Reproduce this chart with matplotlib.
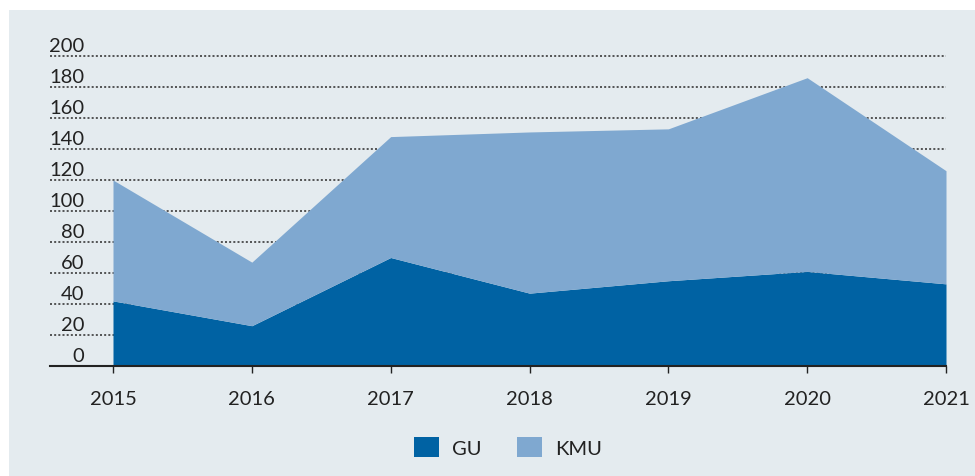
import numpy as np
import matplotlib
matplotlib.use('Agg')
import matplotlib.pyplot as plt
from matplotlib.patches import Patch, Rectangle

years = [2015, 2016, 2017, 2018, 2019, 2020, 2021]
gu = [42, 26, 70, 47, 55, 61, 53]
kmu = [78, 41, 78, 104, 98, 125, 73]
y_ticks = [0, 20, 40, 60, 80, 100, 120, 140, 160, 180, 200]

gu_color = '#0062a3'
kmu_color = '#7fa8d0'
bg_color = '#e4ebef'
text_color = '#222222'

plt.rcParams['font.family'] = ['Lato', 'DejaVu Sans']

fig = plt.figure(figsize=(9.75, 4.77), dpi=100, facecolor='white')

# light panel behind everything, leaving a thin white strip top and left
fig.patches.append(Rectangle((9 / 975, 0), 1 - 9 / 975, 1 - 11 / 477,
                             transform=fig.transFigure, facecolor=bg_color,
                             edgecolor='none', zorder=-10))

ax = fig.add_axes([50 / 975, 1 - 367 / 477, 896 / 975, 310 / 477])
ax.set_facecolor('none')

total = np.array(gu) + np.array(kmu)
ax.fill_between(years, 0, gu, color=gu_color, linewidth=0, zorder=3)
ax.fill_between(years, gu, total, color=kmu_color, linewidth=0, zorder=3)

ax.set_xlim(2015 - 63 / 138.83, 2021)
ax.set_ylim(0, 200)

# dotted gridlines, labels sit just above each line
for v in y_ticks:
    if v > 0:
        ax.axhline(v, color='#3a3a3a', linewidth=1.2, linestyle=(0, (1.2, 1.3)),
                   zorder=1, clip_on=False)
    ax.annotate(str(v), xy=(0.038, v), xycoords=ax.get_yaxis_transform(),
                xytext=(0, 3.5), textcoords='offset points',
                ha='right', va='baseline', fontsize=14.5, color=text_color)

ax.set_yticks([])
ax.set_xticks(years)
ax.set_xticklabels([str(y) for y in years])
ax.tick_params(axis='x', length=5, width=1, color=text_color, pad=12,
               labelsize=14.5, labelcolor=text_color)

for s in ['top', 'left', 'right']:
    ax.spines[s].set_visible(False)
ax.spines['bottom'].set_color(text_color)
ax.spines['bottom'].set_linewidth(1.5)
ax.spines['bottom'].set_zorder(4)

handles = [Patch(facecolor=gu_color, label='GU'),
           Patch(facecolor=kmu_color, label='KMU')]
fig.legend(handles=handles, loc='center', bbox_to_anchor=(0.521, 0.061),
           ncol=2, frameon=False, fontsize=14.5, handlelength=1.2,
           handleheight=1.15, handletextpad=0.65, columnspacing=1.8,
           labelcolor=text_color)

fig.savefig('out.png', dpi=100, facecolor='white')
